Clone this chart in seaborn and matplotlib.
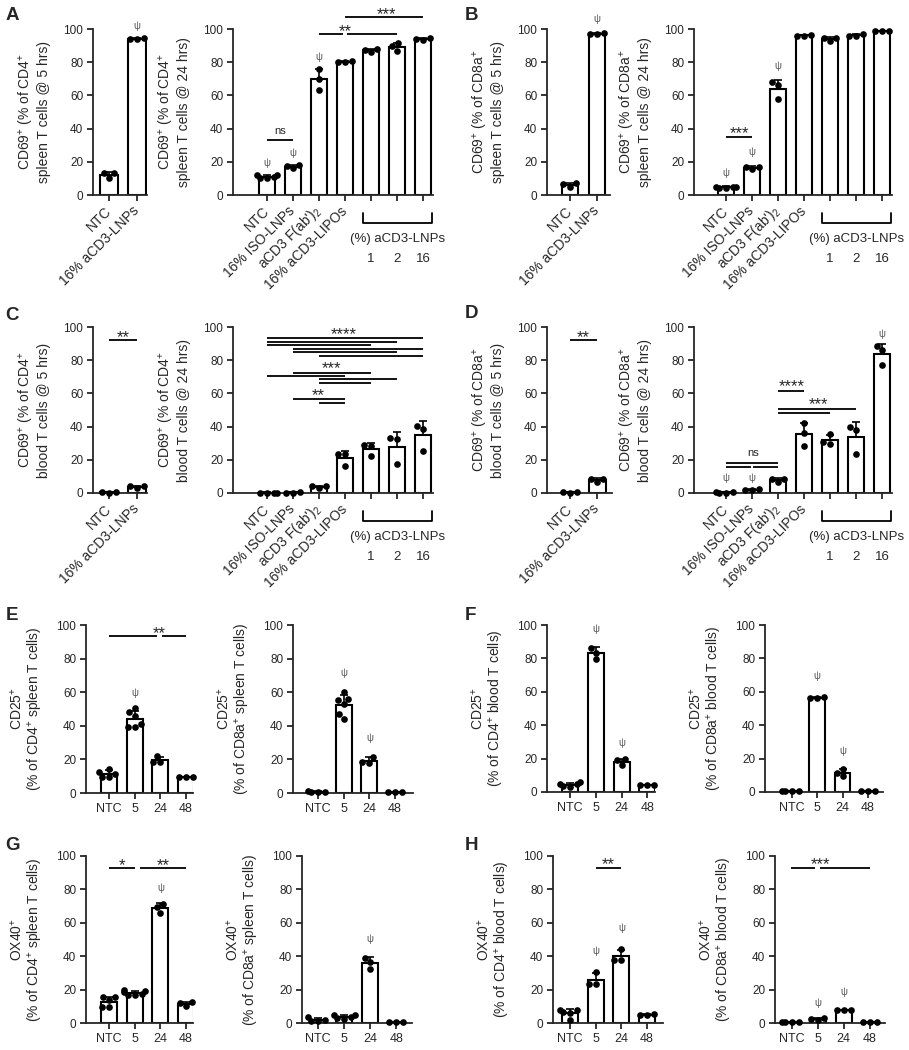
import matplotlib

matplotlib.use("Agg")
import matplotlib.pyplot as plt
import matplotlib.transforms as mtransforms
import numpy as np
import pandas as pd
import seaborn as sns

# ---------------- data ----------------
short_cats = ["NTC", "16% aCD3-LNPs"]
long_cats = ["NTC", "16% ISO-LNPs", "aCD3 F(ab')$_2$", "16% aCD3-LIPOs", "1", "2", "16"]
time_cats = ["NTC", "5", "24", "48"]
lnp_doses = ["1", "2", "16"]

# A: CD69+ of CD4+ spleen T cells
a1_values = [[10, 13, 13], [94, 94, 94.5]]
a1_psi = [(1, 102)]
a2_values = [[10, 10.5, 11, 12, 12], [16, 17.5, 18], [76, 70, 63], [80, 80.5, 80],
             [86, 87.5, 88], [87, 89.5, 91.5], [93.5, 94, 94.5]]
a2_psi = [(0, 19), (1, 25), (2, 83)]
a2_lines = [(0, 1, 33), (2, 2.93, 96.8), (3.07, 5, 96.8), (3, 6, 107.4)]
a2_stars = [(0.5, 38.5, "ns"), (3, 101.5, "**"), (4.6, 112, "***")]

# B: CD69+ of CD8a+ spleen T cells
b1_values = [[5, 6.5, 7], [97, 97, 97.5]]
b1_psi = [(1, 106)]
b2_values = [[4, 4.5, 5, 5, 5], [15.5, 17, 17], [68, 66, 58], [96, 96, 96.5],
             [92.5, 94.5, 94.5], [95.5, 96, 97], [98.5, 98.5, 98.5]]
b2_psi = [(0, 13), (1, 26), (2, 78)]
b2_lines = [(0, 1, 35)]
b2_stars = [(0.5, 40, "***")]

# C: CD69+ of CD4+ blood T cells
c1_values = [[0.2, 0.4, 0.5], [3, 4, 4]]
c1_lines = [(0, 1, 92)]
c1_stars = [(0.5, 97, "**")]
c2_values = [[0.2, 0.3, 0.2, 0.3], [0.3, 0.3, 0.4], [3, 4, 4], [23.5, 23.5, 16],
             [29, 28.5, 22], [33, 32.5, 17.5], [40.5, 38.5, 25]]
c2_lines = [(0, 6, 93.2), (0, 5, 91), (0, 4, 89), (1, 6, 86.7), (1, 5, 84.7), (2, 6, 82.7),
            (1, 4, 72.5), (0, 3, 70.5), (2, 5, 68.5), (2, 4, 66.5), (1, 3, 56.4), (2, 3, 54.4)]
c2_stars = [(2.96, 98.6, "****"), (2.46, 78, "***"), (1.96, 61.6, "**")]

# D: CD69+ of CD8a+ blood T cells
d1_values = [[0.3, 0.5, 0.4], [8.5, 8.5, 6.5]]
d1_lines = [(0, 1, 92)]
d1_stars = [(0.5, 97, "**")]
d2_values = [[0.3, 0.3, 0.4, 0.5], [2, 2, 2.2], [8.5, 8.5, 6.5], [42, 36, 28.5],
             [29.5, 30.5, 35.5], [40, 38, 23.5], [88.5, 86, 77]]
d2_psi = [(0, 9), (1, 9), (6, 96)]
d2_lines = [(2, 3, 61.4), (2, 5, 50.8), (2, 4, 48.4), (0, 2, 17.9), (0, 0.95, 15.9), (1.05, 2, 15.9)]
d2_stars = [(2.54, 67, "****"), (3.54, 56.6, "***"), (1.04, 23.9, "ns")]

# E: CD25+ spleen
e1_values = [[14.5, 12.5, 11.5, 9.5, 9.5], [50.5, 48.5, 46, 41, 39.5, 39], [22, 18.5, 18.5], [9.5, 9.5, 9.7]]
e1_psi = [(1, 59.4)]
e1_lines = [(0, 1.88, 93.2), (2.07, 3, 93.2)]
e1_stars = [(1.96, 98, "**")]
e2_values = [[0.5, 1, 0.8, 0.6], [60, 56, 55.5, 53, 47, 44], [21.5, 18.5, 18], [0.5, 0.6, 0.5]]
e2_psi = [(1, 71.7), (2, 32.9)]

# F: CD25+ blood
f1_values = [[6, 5, 4.5, 3, 3.5], [86.5, 83.5, 79.5], [19.5, 19, 16], [4, 4.2, 4]]
f1_psi = [(1, 97.4), (2, 29.3)]
f2_values = [[0.5, 0.6, 0.5, 0.4], [57, 56, 56.5], [14, 11.5, 9.5], [0.5, 0.6, 0.5]]
f2_psi = [(1, 69.3), (2, 24.5)]

# G: OX40+ spleen
g1_values = [[15.5, 15.5, 13.5, 9.5, 9.5], [20, 19, 18.5, 17.5, 17, 16.5], [71.5, 69.5, 66], [12.5, 12, 10]]
g1_psi = [(2, 81)]
g1_lines = [(0, 1, 92.6), (1.2, 3, 92.6)]
g1_stars = [(0.49, 97.6, "*"), (2.1, 97.6, "**")]
g2_values = [[3.5, 1.5, 1, 1], [5, 4.5, 3.5, 3, 2.5], [39, 36.5, 32.5], [0.3, 0.4, 0.3]]
g2_psi = [(2, 50)]

# H: OX40+ blood
h1_values = [[8, 7.5, 6.6, 6.2, 2], [30.5, 23.5, 23.5], [44.5, 37.5, 37.5], [5.5, 4.5, 4.5]]
h1_psi = [(1, 43), (2, 57)]
h1_lines = [(1, 2, 93)]
h1_stars = [(1.5, 98, "**")]
h2_values = [[0.5, 0.6, 0.5, 0.4], [3, 2.5, 1.5], [8, 8, 8], [0.3, 0.3, 0.3]]
h2_psi = [(1, 12), (2, 18.6)]
h2_lines = [(-0.05, 0.9, 92.6), (1.08, 3, 92.6)]
h2_stars = [(1.1, 98, "***")]

# ---------------- style ----------------
sns.set_style("ticks")
plt.rcParams["font.family"] = ["Liberation Sans", "DejaVu Sans"]
plt.rcParams["mathtext.fontset"] = "custom"
plt.rcParams["mathtext.rm"] = "Liberation Sans"
plt.rcParams["mathtext.it"] = "Liberation Sans:italic"
plt.rcParams["mathtext.bf"] = "Liberation Sans:bold"
plt.rcParams["axes.linewidth"] = 1.3
plt.rcParams["xtick.major.width"] = 1.3
plt.rcParams["ytick.major.width"] = 1.3
plt.rcParams["xtick.major.size"] = 4
plt.rcParams["ytick.major.size"] = 4
plt.rcParams["ytick.major.pad"] = 3
plt.rcParams["xtick.major.pad"] = 3
plt.rcParams["font.size"] = 9

W, H = 909, 1050
fig = plt.figure(figsize=(W / 100, H / 100), dpi=100)

STAR_SIZE = 12
TICK_SIZE = 8.5


def px_axes(left, right, top, bottom):
    return fig.add_axes([left / W, 1 - bottom / H, (right - left) / W, (bottom - top) / H])


def draw_panel(ax, cats, values, xlim, ylabel, psi=(), lines=(), stars=(),
               ticklabels=None, rotate=False, labelpad=8):
    df = pd.DataFrame(
        [(c, v) for c, vals in zip(cats, values) for v in vals], columns=["group", "value"]
    )
    sns.barplot(data=df, x="group", y="value", order=cats, errorbar=None, color="white",
                saturation=1, edgecolor="black", linewidth=1.5, width=0.62, ax=ax)
    means = np.array([np.mean(v) for v in values])
    sds = np.array([np.std(v, ddof=1) for v in values])
    ax.errorbar(np.arange(len(cats)), means, yerr=[np.zeros(len(cats)), sds], fmt="none",
                ecolor="black", elinewidth=1.2, capsize=3, capthick=1.2, zorder=3)
    sns.swarmplot(data=df, x="group", y="value", order=cats, color="black", size=4.8,
                  ax=ax, zorder=4)
    for coll in ax.collections:
        coll.set_clip_on(False)

    ax.set_ylim(0, 100)
    ax.set_yticks(range(0, 101, 20))
    ax.set_xlim(*xlim)
    ax.set_xlabel("")
    ax.set_ylabel(ylabel, fontsize=10, labelpad=labelpad, linespacing=1.1)
    ax.set_xticks(range(len(cats)))
    labels = ticklabels if ticklabels is not None else cats
    if rotate:
        ax.set_xticklabels(labels, rotation=45, ha="right", va="center",
                           rotation_mode="anchor", fontsize=10)
        ax.tick_params(axis="x", pad=6)
    else:
        ax.set_xticklabels(labels, fontsize=TICK_SIZE + 0.5)
    ax.tick_params(axis="y", labelsize=TICK_SIZE)
    sns.despine(ax=ax)

    for x, y in psi:
        ax.text(x, y, "ψ", ha="center", va="center", fontsize=7, color="#555555")
    for x1, x2, y in lines:
        ax.plot([x1, x2], [y, y], color="black", lw=1.3, clip_on=False, solid_capstyle="butt")
    for x, y, lab in stars:
        if "*" in lab:
            shift = mtransforms.ScaledTranslation(0, -0.32 * STAR_SIZE / 72, fig.dpi_scale_trans)
            ax.text(x, y, lab, ha="center", va="center", fontsize=STAR_SIZE,
                    transform=ax.transData + shift)
        else:
            ax.text(x, y, lab, ha="center", va="center", fontsize=8)


def draw_dose_group(ax):
    trans = mtransforms.blended_transform_factory(ax.transData, ax.transAxes)
    ax.plot([3.7, 3.7, 6.35, 6.35], [-0.11, -0.17, -0.17, -0.11], transform=trans,
            color="black", lw=1.3, clip_on=False)
    ax.text(5, -0.265, "(%) aCD3-LNPs", transform=trans, ha="center", va="center", fontsize=9.5)
    for pos, lab in zip([4, 5, 6], lnp_doses):
        ax.text(pos, -0.385, lab, transform=trans, ha="center", va="center", fontsize=9.5)


long_ticklabels = long_cats[:4] + ["", "", ""]


def lab69(cell, tissue, hrs):
    return f"CD69$^{{+}}$ (% of {cell}$^{{+}}$\n{tissue} T cells @ {hrs} hrs)"


def lab2(marker, cell, tissue):
    return f"{marker}$^{{+}}$\n(% of {cell}$^{{+}}$ {tissue} T cells)"


# Row A / B
ax = px_axes(93, 147, 29, 195)
draw_panel(ax, short_cats, a1_values, (-0.57, 1.36), lab69("CD4", "spleen", 5), psi=a1_psi,
           rotate=True, labelpad=9)
ax = px_axes(233, 433, 29, 195)
draw_panel(ax, long_cats, a2_values, (-1.31, 6.38), lab69("CD4", "spleen", 24), psi=a2_psi,
           lines=a2_lines, stars=a2_stars, ticklabels=long_ticklabels, rotate=True, labelpad=9)
draw_dose_group(ax)
ax = px_axes(547, 610, 29, 195)
draw_panel(ax, short_cats, b1_values, (-0.85, 1.48), lab69("CD8a", "spleen", 5), psi=b1_psi,
           rotate=True, labelpad=9)
ax = px_axes(694, 892, 29, 195)
draw_panel(ax, long_cats, b2_values, (-1.23, 6.38), lab69("CD8a", "spleen", 24), psi=b2_psi,
           lines=b2_lines, stars=b2_stars, ticklabels=long_ticklabels, rotate=True, labelpad=9)
draw_dose_group(ax)

# Row C / D
ax = px_axes(93, 147, 327, 493)
draw_panel(ax, short_cats, c1_values, (-0.57, 1.36), lab69("CD4", "blood", 5),
           lines=c1_lines, stars=c1_stars, rotate=True, labelpad=9)
ax = px_axes(233, 433, 327, 493)
draw_panel(ax, long_cats, c2_values, (-1.31, 6.38), lab69("CD4", "blood", 24),
           lines=c2_lines, stars=c2_stars, ticklabels=long_ticklabels, rotate=True, labelpad=9)
draw_dose_group(ax)
ax = px_axes(547, 612, 327, 493)
draw_panel(ax, short_cats, d1_values, (-0.85, 1.55), lab69("CD8a", "blood", 5),
           lines=d1_lines, stars=d1_stars, rotate=True, labelpad=9)
ax = px_axes(694, 892, 327, 493)
draw_panel(ax, long_cats, d2_values, (-1.23, 6.38), lab69("CD8a", "blood", 24), psi=d2_psi,
           lines=d2_lines, stars=d2_stars, ticklabels=long_ticklabels, rotate=True, labelpad=9)
draw_dose_group(ax)

# Row E / F
ax = px_axes(86, 193, 625, 793)
draw_panel(ax, time_cats, e1_values, (-0.9, 3.27), lab2("CD25", "CD4", "spleen"),
           psi=e1_psi, lines=e1_lines, stars=e1_stars)
ax = px_axes(293, 413, 625, 793)
draw_panel(ax, time_cats, e2_values, (-0.97, 3.7), lab2("CD25", "CD8a", "spleen"), psi=e2_psi)
ax = px_axes(547, 655, 625, 792)
draw_panel(ax, time_cats, f1_values, (-0.9, 3.3), lab2("CD25", "CD4", "blood"), psi=f1_psi)
ax = px_axes(765, 883, 625, 792)
draw_panel(ax, time_cats, f2_values, (-1.07, 3.6), lab2("CD25", "CD8a", "blood"), psi=f2_psi)

# Row G / H
ax = px_axes(86, 193, 856, 1023)
draw_panel(ax, time_cats, g1_values, (-0.9, 3.27), lab2("OX40", "CD4", "spleen"),
           psi=g1_psi, lines=g1_lines, stars=g1_stars)
ax = px_axes(302, 412, 856, 1023)
draw_panel(ax, time_cats, g2_values, (-0.62, 3.6), lab2("OX40", "CD8a", "spleen"), psi=g2_psi)
ax = px_axes(553, 663, 856, 1023)
draw_panel(ax, time_cats, h1_values, (-0.66, 3.62), lab2("OX40", "CD4", "blood"),
           psi=h1_psi, lines=h1_lines, stars=h1_stars)
ax = px_axes(775, 885, 856, 1023)
draw_panel(ax, time_cats, h2_values, (-0.66, 3.6), lab2("OX40", "CD8a", "blood"),
           psi=h2_psi, lines=h2_lines, stars=h2_stars)

# panel letters
for letter, x, y in [("A", 12, 15), ("B", 472, 15), ("C", 12, 315), ("D", 472, 313),
                     ("E", 12, 615), ("F", 470, 615), ("G", 12, 845), ("H", 472, 845)]:
    fig.text(x / W, 1 - y / H, letter, fontsize=13.5, fontweight="bold", ha="center", va="center")

fig.savefig("out.png", dpi=100)
